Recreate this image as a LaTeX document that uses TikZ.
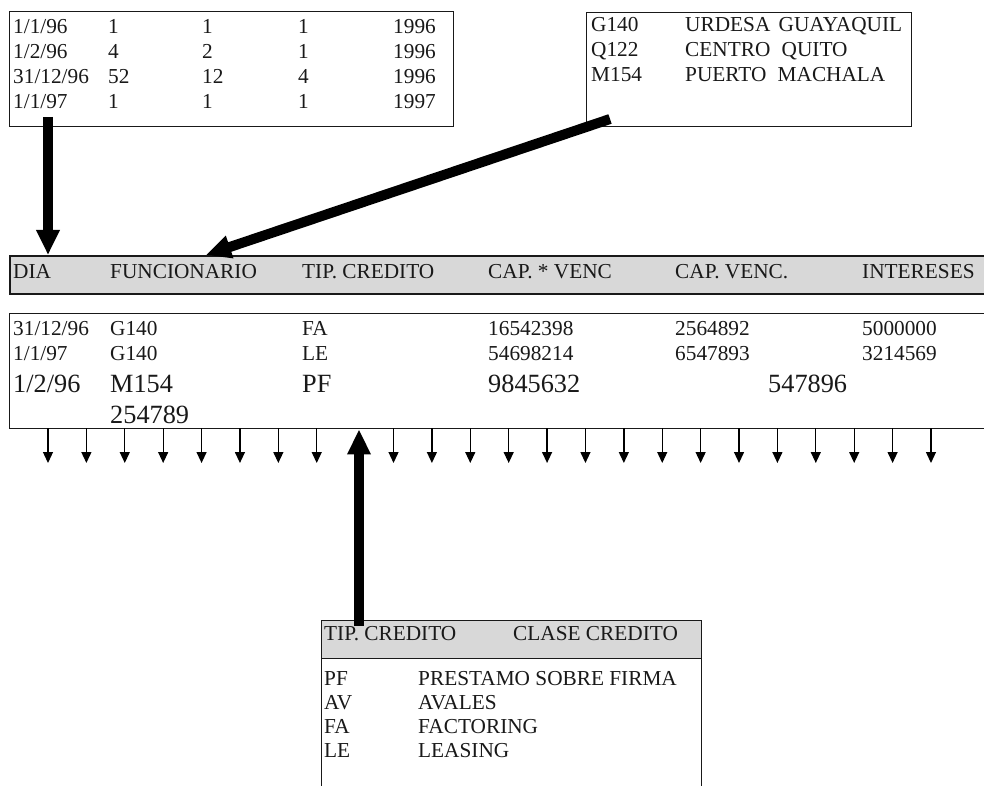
\documentclass[tikz,border=0pt]{standalone}
\usepackage{fontspec}
\setmainfont{Liberation Serif}
\usetikzlibrary{arrows.meta}
\definecolor{hdrgray}{RGB}{216,216,216}
\definecolor{ink}{RGB}{25,25,25}
\begin{document}
\begin{tikzpicture}[x=1pt,y=-1pt,
  tx/.style={anchor=base west,inner sep=0pt,text=ink,font=\fontsize{21.3}{25}\selectfont},
  txr/.style={anchor=base east,inner sep=0pt,text=ink,font=\fontsize{21.3}{25}\selectfont},
  bigtx/.style={anchor=base west,inner sep=0pt,text=ink,font=\fontsize{26.3}{30}\selectfont},
  frame/.style={draw=ink,line width=1.4pt,inner sep=0pt,anchor=north west},
  bandframe/.style={frame,fill=hdrgray,line width=1.8pt},
  bigarrow/.style={draw=black,line width=10pt,-{Triangle[length=25pt 0 0,width=22pt 0 0]}},
  smallarrow/.style={draw=black,line width=1.3pt,-{Triangle[length=11pt 0 0,width=10pt 0 0]}}
]
\clip (0,0) rectangle (984,786);
\fill[white] (0,0) rectangle (984,786);

% ---------- top-left table ----------
\node[frame,minimum width=444pt,minimum height=115pt] (tl) at (9,11) {};
\node[tx] (tl11) at (13,34) {1/1/96};
\node[tx] (tl12) at (108,34) {1};
\node[tx] (tl13) at (202,34) {1};
\node[tx] (tl14) at (298,34) {1};
\node[txr] (tl15) at (436,34) {1996};
\node[tx] (tl21) at (13,59) {1/2/96};
\node[tx] (tl22) at (108,59) {4};
\node[tx] (tl23) at (202,59) {2};
\node[tx] (tl24) at (298,59) {1};
\node[txr] (tl25) at (436,59) {1996};
\node[tx] (tl31) at (13,84) {31/12/96};
\node[tx] (tl32) at (108,84) {52};
\node[tx] (tl33) at (202,84) {12};
\node[tx] (tl34) at (298,84) {4};
\node[txr] (tl35) at (436,84) {1996};
\node[tx] (tl41) at (13,109) {1/1/97};
\node[tx] (tl42) at (108,109) {1};
\node[tx] (tl43) at (202,109) {1};
\node[tx] (tl44) at (298,109) {1};
\node[txr] (tl45) at (436,109) {1997};

% ---------- top-right table ----------
\node[frame,minimum width=325pt,minimum height=114pt] (tr) at (586,12) {};
\node[tx] (tr11) at (591,32) {G140};
\node[tx] (tr12) at (685,32) {URDESA\hspace{3pt} GUAYAQUIL};
\node[tx] (tr21) at (591,57) {Q122};
\node[tx] (tr22) at (685,57) {CENTRO\hspace{6pt} QUITO};
\node[tx] (tr31) at (591,82) {M154};
\node[tx] (tr32) at (685,82) {PUERTO\hspace{6pt} MACHALA};

% ---------- header bar ----------
\node[bandframe,minimum width=1000pt,minimum height=38pt] (hdr) at (9,255) {};
\node[tx] (h1) at (13,278) {DIA};
\node[tx] (h2) at (110,278) {FUNCIONARIO};
\node[tx] (h3) at (302,278) {TIP. CREDITO};
\node[tx] (h4) at (488,278) {CAP. * VENC};
\node[tx] (h5) at (675,278) {CAP. VENC.};
\node[tx] (h6) at (862,278) {INTERESES};

% ---------- data box ----------
\node[frame,minimum width=1000pt,minimum height=115pt] (data) at (9,313) {};
\node[tx] (d11) at (13,335) {31/12/96};
\node[tx] (d12) at (110,335) {G140};
\node[tx] (d13) at (302,335) {FA};
\node[tx] (d14) at (488,335) {16542398};
\node[tx] (d15) at (675,335) {2564892};
\node[tx] (d16) at (862,335) {5000000};
\node[tx] (d21) at (13,360) {1/1/97};
\node[tx] (d22) at (110,360) {G140};
\node[tx] (d23) at (302,360) {LE};
\node[tx] (d24) at (488,360) {54698214};
\node[tx] (d25) at (675,360) {6547893};
\node[tx] (d26) at (862,360) {3214569};
\node[bigtx] (d31) at (13,392) {1/2/96};
\node[bigtx] (d32) at (110,392) {M154};
\node[bigtx] (d33) at (302,392) {PF};
\node[bigtx] (d34) at (488,392) {9845632};
\node[bigtx] (d35) at (768,392) {547896};
\node[bigtx] (d42) at (110,423) {254789};

% ---------- bottom table ----------
\node[bandframe,line width=1.4pt,minimum width=380pt,minimum height=38pt] (bth) at (321,620) {};
\node[frame,minimum width=380pt,minimum height=200pt] (btb) at (321,658) {};
\node[tx] (bh1) at (324,640) {TIP. CREDITO};
\node[tx] (bh2) at (513,640) {CLASE CREDITO};
\node[tx] (b11) at (324,685) {PF};
\node[tx] (b12) at (418,685) {PRESTAMO SOBRE FIRMA};
\node[tx] (b21) at (324,709) {AV};
\node[tx] (b22) at (418,709) {AVALES};
\node[tx] (b31) at (324,733) {FA};
\node[tx] (b32) at (418,733) {FACTORING};
\node[tx] (b41) at (324,757) {LE};
\node[tx] (b42) at (418,757) {LEASING};

% ---------- thick arrows ----------
\coordinate (a1) at (48,117);
\draw[bigarrow] (a1) -- (a1 |- hdr.north);
\coordinate (a2) at (610,119);
\coordinate (a2e) at (206,255);
\draw[bigarrow] (a2) -- (a2e);
\coordinate (a3) at (359,626);
\draw[bigarrow] (a3) -- (a3 |- data.south);

% ---------- small arrows ----------
\foreach \i in {0,...,7,9,10,...,23} {
  \coordinate (s\i) at ({48+38.39*\i},428);
  \draw[smallarrow] (s\i) -- ++(0,35);
}
\end{tikzpicture}
\end{document}
